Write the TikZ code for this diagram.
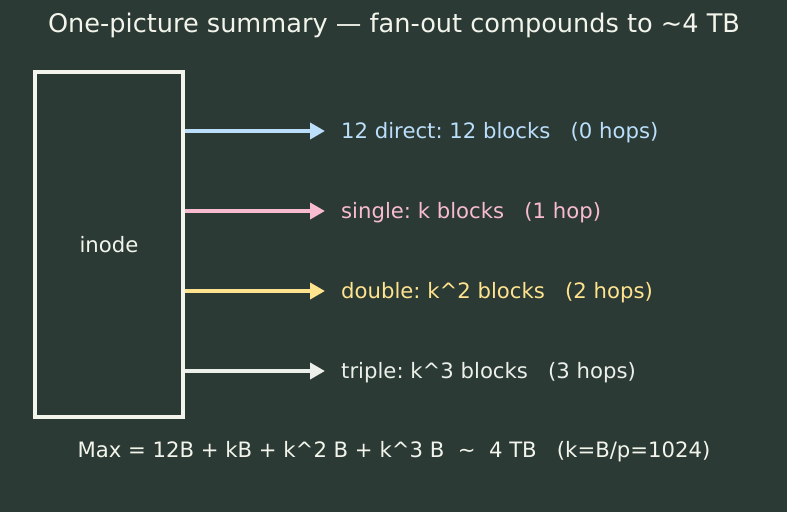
\documentclass[tikz,border=0pt]{standalone}
\usepackage{fontspec}
\setmainfont{DejaVu Sans}
\frenchspacing
\usetikzlibrary{arrows.meta}
\definecolor{bgcol}{HTML}{2B3A34}
\definecolor{boxcol}{HTML}{F3F5EC}
\definecolor{dircol}{HTML}{BBDEFB}
\definecolor{sglcol}{HTML}{F8BBD0}
\definecolor{dblcol}{HTML}{FFE38F}
\definecolor{trpcol}{HTML}{ECEFEA}
\begin{document}
\begin{tikzpicture}[x=1pt,y=-1pt,
    lbl/.style={anchor=west,font=\fontsize{21.2}{25}\selectfont,inner sep=0pt},
    ptr/.style={line width=3.8pt,-{Triangle[length=15pt,width=16pt]}}]
            \fill[bgcol] (0,0) rectangle (787,512);
            \useasboundingbox (0,0) rectangle (787,512);

            \node[text=boxcol,font=\fontsize{25.6}{30}\selectfont] (T) at (394,25) {One-picture summary — fan-out compounds to \textasciitilde4 TB};
            \node[draw=boxcol,line width=3.8pt,minimum width=148pt,minimum height=345pt,text=boxcol,font=\fontsize{21.2}{25}\selectfont] (I) at (109,244.5) {inode};

            \coordinate (D0) at (185,131);
            \coordinate (S0) at (185,211);
            \coordinate (B0) at (185,291);
            \coordinate (R0) at (185,371);
            \node[lbl,text=dircol] (D) at (341,132.5) {12 direct: 12 blocks\ \ \ (0 hops)};
            \node[lbl,text=sglcol] (S) at (341,212.5) {single: k blocks\ \ \ (1 hop)};
            \node[lbl,text=dblcol] (B) at (341,292.5) {double: k\textasciicircum2 blocks\ \ \ (2 hops)};
            \node[lbl,text=trpcol] (R) at (341,372.5) {triple: k\textasciicircum3 blocks\ \ \ (3 hops)};

            \draw[ptr,dircol] (D0) -- ([xshift=-16pt]D.west|-D0);
            \draw[ptr,sglcol] (S0) -- ([xshift=-16pt]S.west|-S0);
            \draw[ptr,dblcol] (B0) -- ([xshift=-16pt]B.west|-B0);
            \draw[ptr,trpcol] (R0) -- ([xshift=-16pt]R.west|-R0);

            \node[text=boxcol,font=\fontsize{21.2}{25}\selectfont] (M) at (394,452) {Max = 12B + kB + k\textasciicircum2 B + k\textasciicircum3 B\ \ \textasciitilde\ \ 4 TB\ \ \ (k=B/p=1024)};
        \end{tikzpicture}
\end{document}
